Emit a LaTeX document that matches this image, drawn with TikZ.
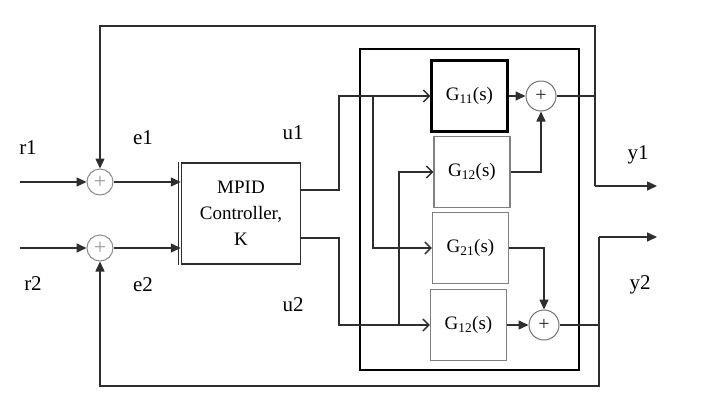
\documentclass[tikz,border=0pt]{standalone}
\usepackage{fontspec}
\setmainfont{Liberation Serif}
\usetikzlibrary{arrows.meta}
\begin{document}
\begin{tikzpicture}[x=1pt,y=-1pt,
  line/.style={draw=black!82, line width=1.5pt},
  farrow/.style={line, -{Triangle[length=10pt,width=9pt]}},
  oarrow/.style={line, -{Straight Barb[length=6pt,width=12pt,line width=1.4pt]}},
  sumL/.style={circle, draw=black!45, line width=1pt, minimum size=26pt, inner sep=0pt, font=\fontsize{22}{22}\selectfont, text=black!40},
  sumR/.style={circle, draw=black!55, line width=1pt, minimum size=30pt, inner sep=0pt, font=\fontsize{20}{20}\selectfont, text=black!85},
  gbox/.style={draw=black!50, line width=1.4pt, minimum width=76pt, minimum height=71pt, inner sep=0pt, font=\fontsize{19}{20}\selectfont},
  lab/.style={font=\fontsize{21}{22}\selectfont, inner sep=0pt}
]
\useasboundingbox (0,0) rectangle (710,410);
\fill[white] (0,0) rectangle (710,410);

% summing junctions (left)
\node[sumL] (s1) at (100,182) {+};
\node[sumL] (s2) at (100,248) {+};

% controller
\node[draw=black!82, line width=1.5pt, minimum width=119pt, minimum height=101pt, align=center,
  font=\fontsize{19}{26}\selectfont, inner sep=0pt] (K) at (241,213.5) {MPID\\Controller,\\K};
\draw[line] ([xshift=-2.5pt]K.north west) -- ([xshift=-2.5pt]K.south west);

% inputs
\coordinate (r1in) at (20,182);
\coordinate (r2in) at (20,248);
\draw[farrow] (r1in) -- (s1);
\draw[farrow] (r2in) -- (s2);
\draw[farrow] (s1) -- (K.west |- s1);
\draw[farrow] (s2) -- (K.west |- s2);

% plant box
\node[draw=black, line width=1.5pt, minimum width=219pt, minimum height=321pt, inner sep=0pt] (P) at (469.5,209.5) {};

% G blocks
\node[gbox, draw=black, line width=2.3pt] (G11) at (469.5,96) {G\textsubscript{11}(s)};
\node[gbox] (G12a) at (472,172) {G\textsubscript{12}(s)};
\node[gbox] (G21) at (470.5,248) {G\textsubscript{21}(s)};
\node[gbox] (G12b) at (468.5,325) {G\textsubscript{12}(s)};

% right summing junctions
\node[sumR] (s3) at (541,96) {+};
\node[sumR] (s4) at (544,325) {+};

% controller outputs
\coordinate (a1) at (339,190);
\coordinate (a2) at (339,96);
\coordinate (a3) at (339,238);
\coordinate (a4) at (339,325);
\coordinate (b1) at (373,96);
\coordinate (b2) at (399,325);
\draw[oarrow] (K.east |- a1) -- (a1) -- (a2) -- (G11.west);
\draw[oarrow] (K.east |- a3) -- (a3) -- (a4) -- (G12b.west);
\draw[oarrow] (b1) |- (G21.west);
\draw[oarrow, line width=2pt] (b2) |- (G12a.west);

% G to sums
\draw[farrow] (G11) -- (s3);
\draw[farrow] (G12a.east) -| (s3.south);
\draw[farrow] (G21.east) -| (s4.north);
\draw[farrow] (G12b) -- (s4);

% outputs and feedback
\coordinate (y1a) at (595,186);
\coordinate (y1e) at (657,186);
\coordinate (tr) at (595,26);
\coordinate (tl) at (100,26);
\coordinate (y2a) at (599,237);
\coordinate (y2e) at (657,237);
\coordinate (br) at (599,386);
\coordinate (bl) at (100,386);
\draw[line] (s3) -- (s3 -| y1a);
\draw[farrow] (y1a) -- (tr) -- (tl) -- (s1.north);
\draw[farrow] (y1a) -- (y1e);
\draw[line] (s4) -- (s4 -| br);
\draw[farrow] (y2a) -- (br) -- (bl) -- (s2.south);
\draw[farrow] (y2a) -- (y2e);

% labels
\node[lab] (r1) at (28,148) {r1};
\node[lab] (r2) at (33,284) {r2};
\node[lab] (e1) at (143,138) {e1};
\node[lab] (e2) at (143,285) {e2};
\node[lab] (u1) at (293,133) {u1};
\node[lab] (u2) at (293,305) {u2};
\node[lab] (y1) at (638,155) {y1};
\node[lab] (y2) at (640,285) {y2};
\end{tikzpicture}
\end{document}
